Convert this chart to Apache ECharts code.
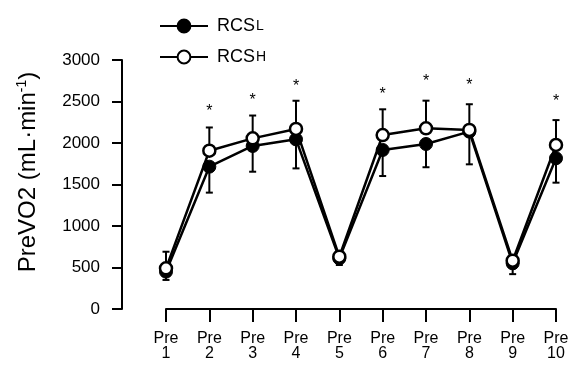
<!DOCTYPE html>
<html>
<head>
<meta charset="utf-8">
<script src="https://cdn.jsdelivr.net/npm/echarts@6/dist/echarts.min.js"></script>
<style>
html,body{margin:0;padding:0;background:#fff;}
#c{width:574px;height:367px;}
</style>
</head>
<body>
<div id="c"></div>
<script>
// ---- data ----
const categories = ['Pre\n1','Pre\n2','Pre\n3','Pre\n4','Pre\n5','Pre\n6','Pre\n7','Pre\n8','Pre\n9','Pre\n10'];
const rcsL = [450, 1715, 1964, 2044, 610, 1916, 1988, 2137, 550, 1816];
const rcsH = [490, 1907, 2056, 2169, 630, 2096, 2177, 2157, 582, 1976];
const sdL  = [100, 313, 310, 350, 80, 314, 280, 394, 130, 294];
const sdH  = [200, 280, 275, 340, 40, 310, 333, 310, 60, 300];
const sigY = [null, 2422, 2558, 2731, null, 2630, 2792, 2739, null, 2551];
const yTicks = {min: 0, max: 3000, interval: 500};

const FONT = 'Liberation Sans, Arial, sans-serif';

function errBar(means, sds, dir) {
  return {
    type: 'custom',
    z: 1,
    silent: true,
    data: means.map((m, i) => [i, m, m + dir * sds[i]]),
    renderItem: function (params, api) {
      const p0 = api.coord([api.value(0), api.value(1)]);
      const p1 = api.coord([api.value(0), api.value(2)]);
      const cw = 3.5;
      const st = {stroke: '#000', lineWidth: 2};
      return {
        type: 'group',
        children: [
          {type: 'line', shape: {x1: p0[0], y1: p0[1], x2: p1[0], y2: p1[1]}, style: st},
          {type: 'line', shape: {x1: p1[0] - cw, y1: p1[1], x2: p1[0] + cw, y2: p1[1]}, style: st}
        ]
      };
    }
  };
}

const chart = echarts.init(document.getElementById('c'), null, {renderer: 'canvas'});
chart.setOption({
  animation: false,
  backgroundColor: '#fff',
  textStyle: {fontFamily: FONT},
  grid: {left: 166, right: 18, top: 60, bottom: 58, containLabel: false},
  legend: {
    orient: 'vertical',
    left: 154,
    top: 12,
    itemWidth: 48,
    itemHeight: 16,
    itemGap: 13,
    data: ['RCSL', 'RCSH'],
    formatter: function (n) { return '{a|RCS}{b|' + n.slice(3) + '}'; },
    textStyle: {
      fontFamily: FONT,
      fontSize: 18,
      color: '#000',
      rich: {
        a: {fontSize: 18, fontFamily: FONT, color: '#000', padding: [0, 0, 0, 4], verticalAlign: 'bottom'},
        b: {fontSize: 14, fontFamily: FONT, color: '#000', verticalAlign: 'bottom', padding: [0, 0, 2, 1]}
      }
    }
  },
  xAxis: {
    type: 'category',
    boundaryGap: false,
    data: categories,
    offset: 1,
    axisLine: {lineStyle: {color: '#000', width: 2}},
    axisTick: {show: true, length: 13, lineStyle: {color: '#000', width: 2}},
    axisLabel: {color: '#000', fontSize: 16, fontFamily: FONT, margin: 21, lineHeight: 15, interval: 0}
  },
  yAxis: {
    type: 'value',
    min: yTicks.min,
    max: yTicks.max,
    interval: yTicks.interval,
    offset: 44,
    axisLine: {show: true, lineStyle: {color: '#000', width: 2}},
    axisTick: {show: true, length: 10, lineStyle: {color: '#000', width: 2}},
    axisLabel: {color: '#000', fontSize: 17, fontFamily: FONT, margin: 22, formatter: v => String(v)},
    splitLine: {show: false}
  },
  graphic: [{
    type: 'text',
    x: 28,
    y: 172,
    rotation: Math.PI / 2,
    style: {
      text: '{a|PreVO2 (mL·min}{s|-1}{a|)}',
      align: 'center',
      verticalAlign: 'middle',
      rich: {
        a: {fontSize: 24, fontFamily: FONT, fill: '#000', color: '#000'},
        s: {fontSize: 14, fontFamily: FONT, fill: '#000', color: '#000', padding: [0, 0, 12, 0]}
      }
    }
  }],
  series: [
    errBar(rcsL, sdL, -1),
    errBar(rcsH, sdH, 1),
    {
      name: 'RCSL',
      type: 'line',
      data: rcsL,
      z: 3,
      symbol: 'circle',
      symbolSize: 13,
      showAllSymbol: true,
      lineStyle: {color: '#000', width: 2.5},
      itemStyle: {color: '#000', borderColor: '#000', borderWidth: 1}
    },
    {
      name: 'RCSH',
      type: 'line',
      data: rcsH,
      z: 4,
      symbol: 'circle',
      symbolSize: 12,
      showAllSymbol: true,
      lineStyle: {color: '#000', width: 2.5},
      itemStyle: {color: '#fff', borderColor: '#000', borderWidth: 2.5}
    },
    {
      type: 'custom',
      z: 5,
      silent: true,
      data: sigY.map((v, i) => [i, v]).filter(d => d[1] !== null),
      renderItem: function (params, api) {
        const p = api.coord([api.value(0), api.value(1)]);
        return {
          type: 'text',
          x: p[0], y: p[1] + 4,
          style: {text: '*', fontSize: 16, fontFamily: FONT, fill: '#000', align: 'center', verticalAlign: 'middle'}
        };
      }
    }
  ]
});
</script>
</body>
</html>
